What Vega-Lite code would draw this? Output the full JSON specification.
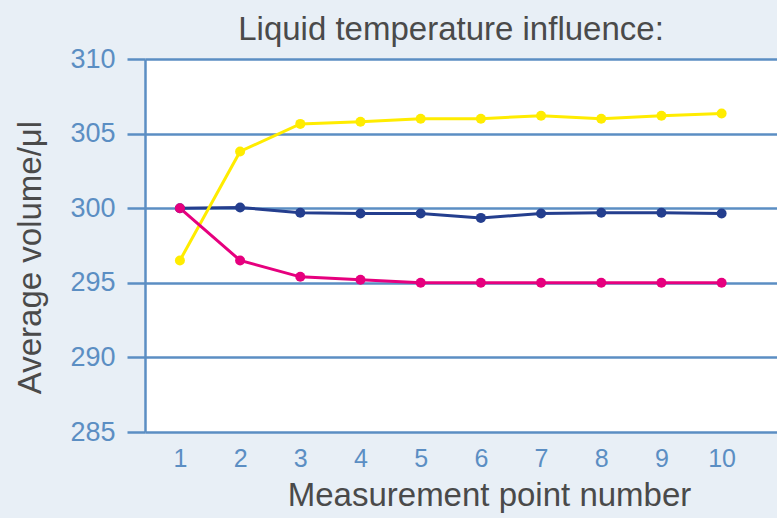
{
  "$schema": "https://vega.github.io/schema/vega-lite/v6.json",
  "autosize": "none",
  "width": 632,
  "height": 373,
  "padding": {"left": 145, "top": 59, "right": 0, "bottom": 86},
  "background": "#e8eff6",
  "config": {
    "view": {"fill": "white", "stroke": null},
    "font": "Liberation Sans"
  },
  "title": {
    "text": "Liquid temperature influence:",
    "fontSize": 33,
    "fontWeight": "normal",
    "color": "#4a4a4a",
    "anchor": "middle",
    "baseline": "alphabetic",
    "dx": -10,
    "offset": 0,
    "dy": 28
  },
  "data": {
    "values": [
      {"point": 1, "volume": 300.0, "series": "A"},
      {"point": 2, "volume": 300.05, "series": "A"},
      {"point": 3, "volume": 299.7, "series": "A"},
      {"point": 4, "volume": 299.65, "series": "A"},
      {"point": 5, "volume": 299.65, "series": "A"},
      {"point": 6, "volume": 299.35, "series": "A"},
      {"point": 7, "volume": 299.65, "series": "A"},
      {"point": 8, "volume": 299.7, "series": "A"},
      {"point": 9, "volume": 299.7, "series": "A"},
      {"point": 10, "volume": 299.65, "series": "A"},
      {"point": 1, "volume": 296.5, "series": "B"},
      {"point": 2, "volume": 303.8, "series": "B"},
      {"point": 3, "volume": 305.65, "series": "B"},
      {"point": 4, "volume": 305.8, "series": "B"},
      {"point": 5, "volume": 306.0, "series": "B"},
      {"point": 6, "volume": 306.0, "series": "B"},
      {"point": 7, "volume": 306.2, "series": "B"},
      {"point": 8, "volume": 306.0, "series": "B"},
      {"point": 9, "volume": 306.2, "series": "B"},
      {"point": 10, "volume": 306.35, "series": "B"},
      {"point": 1, "volume": 300.0, "series": "C"},
      {"point": 2, "volume": 296.5, "series": "C"},
      {"point": 3, "volume": 295.4, "series": "C"},
      {"point": 4, "volume": 295.2, "series": "C"},
      {"point": 5, "volume": 295.0, "series": "C"},
      {"point": 6, "volume": 295.0, "series": "C"},
      {"point": 7, "volume": 295.0, "series": "C"},
      {"point": 8, "volume": 295.0, "series": "C"},
      {"point": 9, "volume": 295.0, "series": "C"},
      {"point": 10, "volume": 295.0, "series": "C"}
    ]
  },
  "encoding": {
    "x": {
      "field": "point",
      "type": "quantitative",
      "scale": {"domain": [0.42, 10.92], "nice": false, "zero": false},
      "axis": {
        "title": "Measurement point number",
        "values": [1, 2, 3, 4, 5, 6, 7, 8, 9, 10],
        "grid": false,
        "domain": false,
        "ticks": false,
        "labelFontSize": 25,
        "labelColor": "#5b8ec3",
        "labelPadding": 14,
        "labelFlush": false,
        "titleFontSize": 33,
        "titleFontWeight": "normal",
        "titleColor": "#4a4a4a",
        "titleX": 344,
        "titleY": 73,
        "titleBaseline": "alphabetic",
        "titleAlign": "center"
      }
    },
    "y": {
      "field": "volume",
      "type": "quantitative",
      "scale": {"domain": [285, 310], "nice": false, "zero": false},
      "axis": {
        "title": "Average volume/μl",
        "values": [285, 290, 295, 300, 305, 310],
        "grid": true,
        "gridColor": "#5b8ec3",
        "gridWidth": 2.5,
        "gridOpacity": 1,
        "domain": true,
        "domainColor": "#5b8ec3",
        "domainWidth": 2.5,
        "ticks": true,
        "tickSize": 18,
        "tickColor": "#5b8ec3",
        "tickWidth": 2.5,
        "labelFontSize": 27,
        "labelColor": "#5b8ec3",
        "labelPadding": 12,
        "labelFlush": false,
        "titleFontSize": 33,
        "titleFontWeight": "normal",
        "titleColor": "#4a4a4a",
        "titleAngle": -90,
        "titleX": -115,
        "titleY": 198,
        "titleAlign": "center",
        "titleBaseline": "middle"
      }
    },
    "color": {
      "field": "series",
      "type": "nominal",
      "scale": {"domain": ["A", "B", "C"], "range": ["#243e8e", "#ffec00", "#e6007e"]},
      "legend": null
    },
    "order": {"field": "point", "type": "quantitative"}
  },
  "layer": [
    {"mark": {"type": "line", "strokeWidth": 3}},
    {"mark": {"type": "point", "filled": true, "size": 100, "opacity": 1}}
  ]
}
